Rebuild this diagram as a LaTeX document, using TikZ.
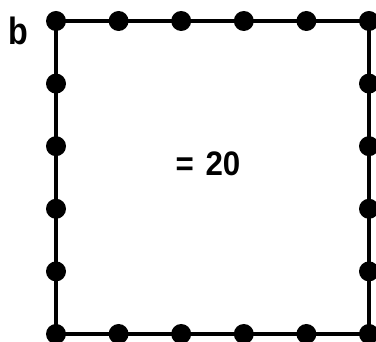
\documentclass[tikz,border=0pt]{standalone}
\usepackage{fontspec}
\setmainfont{Liberation Sans}
\newfontfamily\narrowsans[FakeStretch=0.85]{Liberation Sans}
\newfontfamily\widesans[FakeStretch=0.92]{Liberation Sans}
\usepackage{tikz}
\usetikzlibrary{positioning}

\begin{document}
\begin{tikzpicture}[x=1pt, y=1pt, node distance=42.2pt,
    dot/.style={circle, fill=black, inner sep=0pt, minimum size=20pt},
    edge/.style={draw, line width=3.2pt},
    tag/.style={inner sep=0pt, font=\narrowsans\bfseries\fontsize{38}{38}\selectfont},
    total/.style={inner sep=0pt, font=\widesans\bfseries\fontsize{34}{34}\selectfont}
]
    \useasboundingbox (0,0) rectangle (376,342);

    % top row
    \node [dot] (t0) at (56,321) {};
    \node [dot, right=of t0] (t1) {};
    \node [dot, right=of t1] (t2) {};
    \node [dot, right=of t2] (t3) {};
    \node [dot, right=of t3] (t4) {};
    \node [dot, right=of t4] (t5) {};
    % left side
    \node [dot, below=of t0] (l1) {};
    \node [dot, below=of l1] (l2) {};
    \node [dot, below=of l2] (l3) {};
    \node [dot, below=of l3] (l4) {};
    % right side
    \node [dot, below=of t5] (r1) {};
    \node [dot, below=of r1] (r2) {};
    \node [dot, below=of r2] (r3) {};
    \node [dot, below=of r3] (r4) {};
    % bottom row
    \node [dot, below=of l4] (b0) {};
    \node [dot, right=of b0] (b1) {};
    \node [dot, right=of b1] (b2) {};
    \node [dot, right=of b2] (b3) {};
    \node [dot, right=of b3] (b4) {};
    \node [dot, right=of b4] (b5) {};

    \path [edge] (t0.center) -- (t5.center) -- (b5.center) -- (b0.center) -- cycle;

    \node [tag] (name) at (18,311) {b};
    \node [total] (sum) at (208,178) {=\hspace{3pt} 20};
\end{tikzpicture}
\end{document}
